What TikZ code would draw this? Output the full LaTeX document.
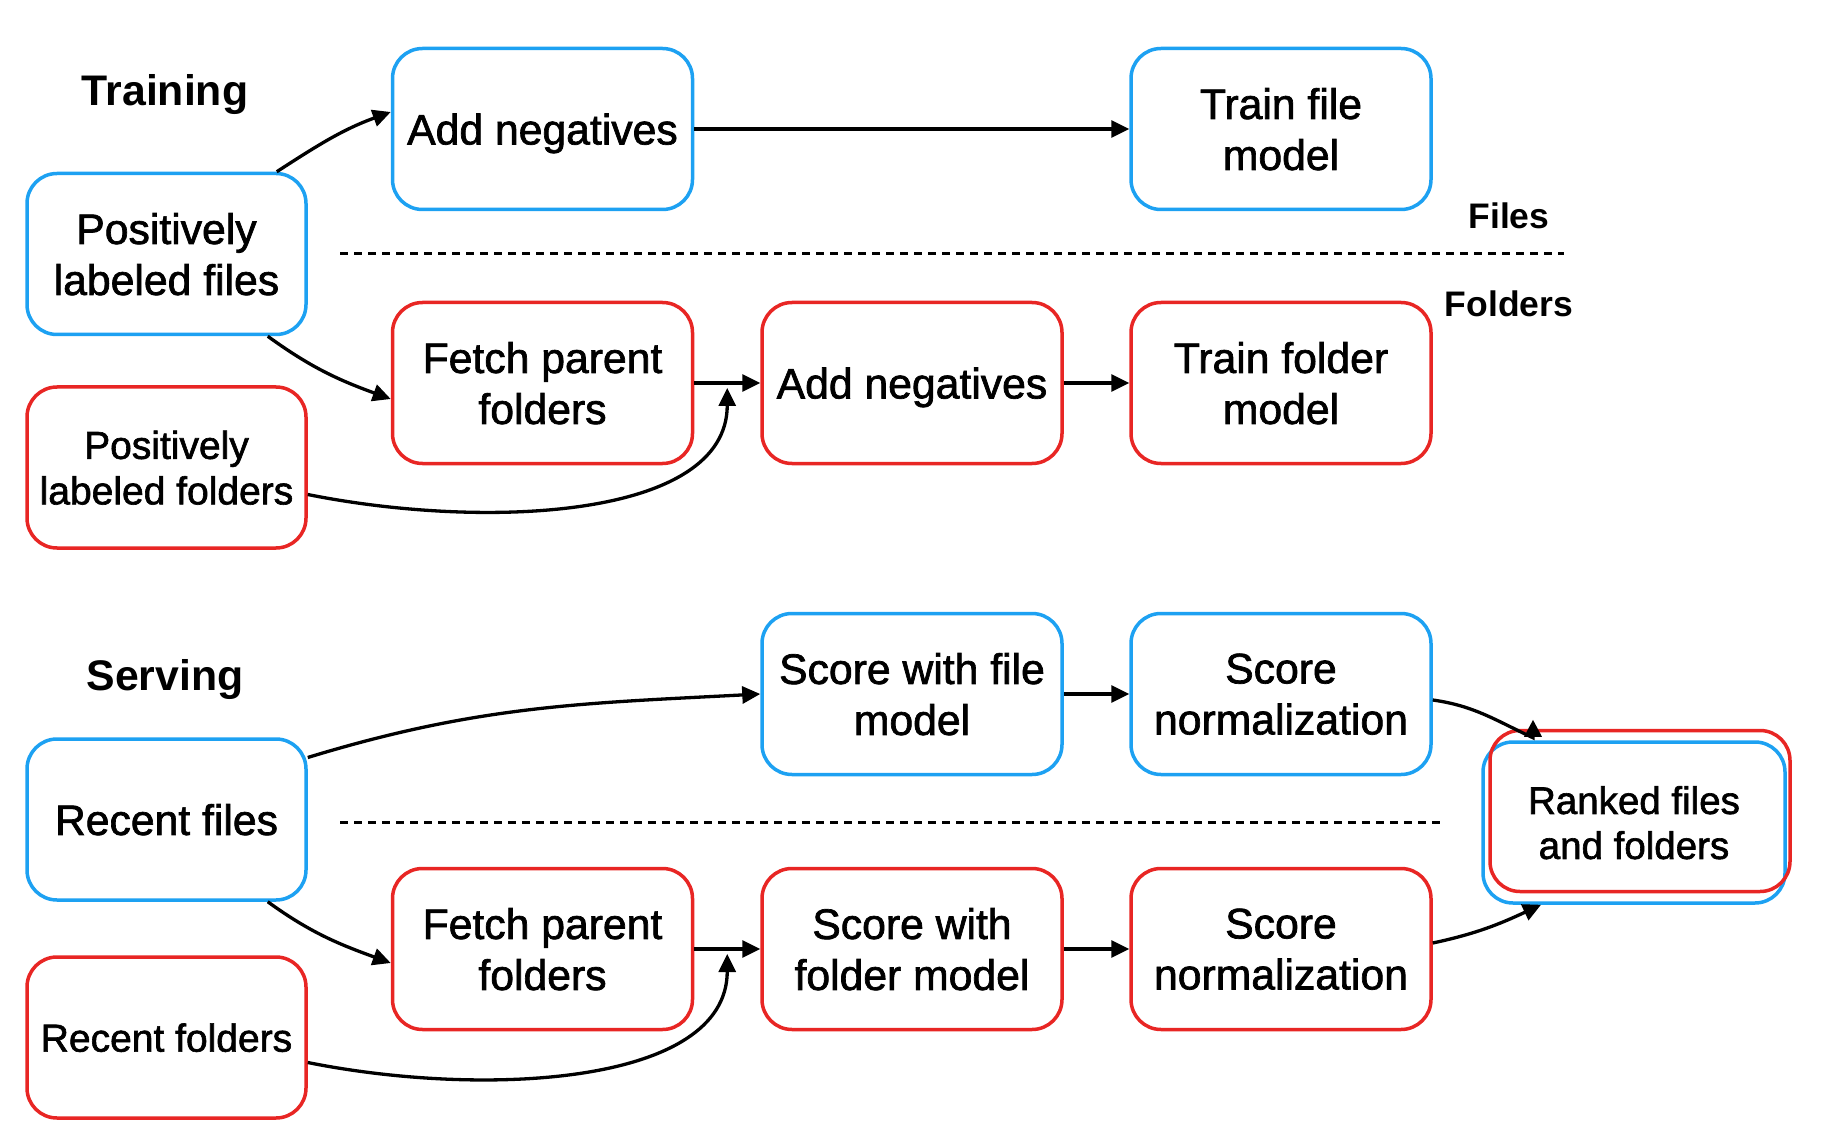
\documentclass[tikz,border=0pt]{standalone}
\usepackage{fontspec}
\setmainfont{Liberation Sans}
\newfontfamily\medfont[FakeBold=1.6]{Liberation Sans}
\usetikzlibrary{arrows.meta,calc}
\definecolor{cblue}{RGB}{29,161,242}
\definecolor{cred}{RGB}{232,38,36}
\begin{document}
\begin{tikzpicture}[x=1pt,y=1pt,
 box/.style={draw, rounded corners=30pt, line width=3.5pt, minimum width=300pt, minimum height=161pt, align=center, font=\medfont\fontsize{42.7}{51}\selectfont, inner sep=0pt, fill=white, text depth=0pt},
 bbox/.style={box, draw=cblue},
 rbox/.style={box, draw=cred},
 leftbox/.style={minimum width=279pt},
 smalltext/.style={font=\medfont\fontsize{39}{45.5}\selectfont},
 arr/.style={line width=3.3pt, -{Triangle[length=18pt,width=17pt]}},
 dashsep/.style={line width=3pt, dash pattern=on 8pt off 6pt},
 labeltxt/.style={font=\bfseries\fontsize{42.8}{50}\selectfont},
 sublbl/.style={font=\bfseries\fontsize{35.5}{42}\selectfont}]
\useasboundingbox (0,0) rectangle (1826,-1139);

% Training
\node[labeltxt] (ttrain) at (165,-95) {Training};
\node[bbox,leftbox] (pf) at (166.5,-254) {Positively\\labeled files};
\node[rbox,leftbox,smalltext] (pfo) at (166.5,-467.5) {Positively\\labeled folders};
\node[bbox] (an1) at (542.5,-129) {Add negatives};
\node[bbox] (tfm) at (1281,-129) {Train file\\model};
\node[rbox] (fpf1) at (542.5,-383) {Fetch parent\\folders};
\node[rbox] (an2) at (912,-383) {Add negatives};
\node[rbox] (tfo) at (1281,-383) {Train folder\\model};
\node[sublbl] (lfiles) at (1509,-216) {Files};
\node[sublbl] (lfolders) at (1509,-304) {Folders};
\coordinate (d1a) at (340,-254);
\coordinate (d1b) at (1564,-254);
\draw[dashsep] (d1a) -- (d1b);

\coordinate (j1) at ($(fpf1.east)!0.5!(an2.west)+(0,-5)$);
\draw[arr] ([xshift=-31pt]pf.north east) to[out=33,in=200] ([yshift=17pt]an1.west);
\draw[arr] ([xshift=-40pt]pf.south east) to[out=-36,in=160] ([yshift=-16pt]fpf1.west);
\draw[arr] (an1.east) -- (tfm.west);
\draw[arr] (fpf1.east) -- (an2.west);
\draw[arr] (an2.east) -- (tfo.west);
\draw[arr] ([yshift=-27pt]pfo.east) .. controls +(174,-35) and +(0,-132) .. (j1);

% Serving
\node[labeltxt] (tserve) at (165,-680) {Serving};
\node[bbox,leftbox] (rf) at (166.5,-819.5) {Recent files};
\node[rbox,leftbox,smalltext] (rfo) at (166.5,-1037.5) {Recent folders};
\node[bbox] (swf) at (912,-694) {Score with file\\model};
\node[bbox] (sn1) at (1281,-694) {Score\\normalization};
\node[rbox] (fpf2) at (542.5,-949) {Fetch parent\\folders};
\node[rbox] (swfo) at (912,-949) {Score with\\folder model};
\node[rbox] (sn2) at (1281,-949) {Score\\normalization};
\coordinate (d2a) at (340,-822);
\coordinate (d2b) at (1444,-822);
\draw[dashsep] (d2a) -- (d2b);

\coordinate (j2) at ($(fpf2.east)!0.5!(swfo.west)+(0,-5)$);
\draw[arr] ([yshift=62pt]rf.east) to[out=17,in=183] (swf.west);
\draw[arr] ([xshift=-40pt]rf.south east) to[out=-36,in=160] ([yshift=-14pt]fpf2.west);
\draw[arr] (swf.east) -- (sn1.west);
\draw[arr] (fpf2.east) -- (swfo.west);
\draw[arr] (swfo.east) -- (sn2.west);
\draw[arr] ([yshift=-25pt]rfo.east) .. controls +(174,-35) and +(0,-132) .. (j2);

% Ranked
\node[bbox,minimum width=302pt,font=\medfont\fontsize{38.5}{45}\selectfont] (rb) at (1634,-822.5) {Ranked files\\and folders};
\node[rbox,fill=none] (rr) at (1640,-811) {};
\coordinate (rtip) at ([xshift=-107pt,yshift=9pt]rr.north);
\coordinate (rbase) at ([xshift=-107pt,yshift=-9pt]rr.north);
\draw[arr,-{Triangle[length=17pt,width=17pt]}] ([yshift=-6pt]sn1.east) to[out=-8,in=155] (rbase) -- (rtip);
\draw[arr] ([yshift=6pt]sn2.east) to[out=12,in=205] ([xshift=-93pt]rb.south);
\end{tikzpicture}
\end{document}
